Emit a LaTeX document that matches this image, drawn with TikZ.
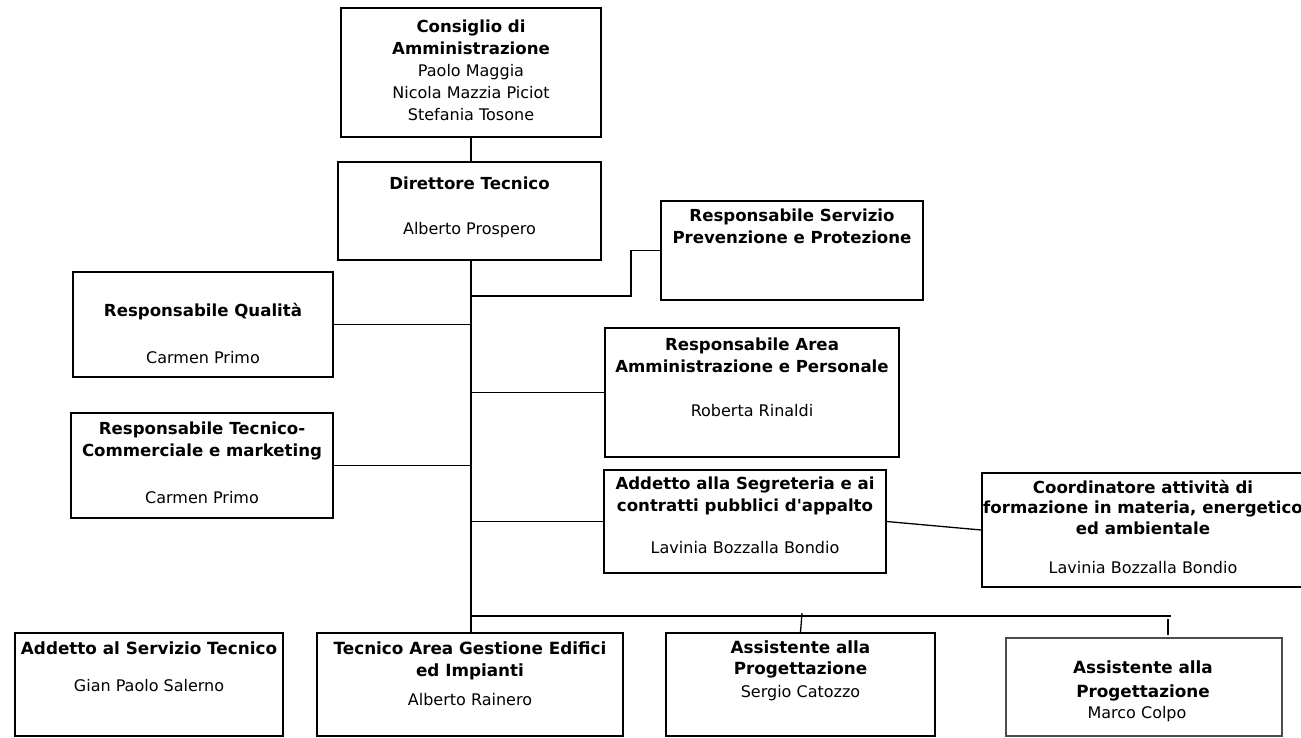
\documentclass[tikz,border=0pt]{standalone}
\usepackage{fontspec}
\setmainfont{DejaVu Sans}
\newfontfamily\plainfam{DejaVu Sans}
\newcommand{\fs}{\rule{0pt}{13.5pt}}
\begin{document}
\begin{tikzpicture}[x=1pt,y=-1pt,
  box/.style={draw, line width=1.4pt, inner sep=0pt, fill=white},
  ttl/.style={anchor=north, inner sep=0pt, align=center, font=\fontsize{16.6}{22}\selectfont\bfseries},
  nm/.style={anchor=north, inner sep=0pt, align=center, font=\fontsize{16}{22}\selectfont},
  conn/.style={line width=1.3pt},
  trunkline/.style={line width=2pt}]
\useasboundingbox (0,0) rectangle (1301,738);
% boxes
\node[box, minimum width=260pt, minimum height=129pt] (cda) at (471,72.5) {};
\node[box, minimum width=263pt, minimum height=98pt] (dt) at (469.5,211) {};
\node[box, minimum width=262pt, minimum height=99pt] (rspp) at (792,250.5) {};
\node[box, minimum width=260pt, minimum height=105pt] (rq) at (203,324.5) {};
\node[box, minimum width=262pt, minimum height=105pt] (rtc) at (202,465.5) {};
\node[box, minimum width=294pt, minimum height=129pt] (raa) at (752,392.5) {};
\node[box, minimum width=282pt, minimum height=103pt] (seg) at (745,521.5) {};
\node[box, minimum width=322pt, minimum height=114pt] (coord) at (1143,530) {};
\node[box, minimum width=268pt, minimum height=103pt] (ast) at (149,684.5) {};
\node[box, minimum width=306pt, minimum height=103pt] (tag) at (470,684.5) {};
\node[box, minimum width=269pt, minimum height=103pt] (sc) at (800.5,684.5) {};
\node[box, draw=black!70, minimum width=276pt, minimum height=98pt] (mc) at (1144,687) {};
% texts
\node[ttl] (cdat) at (471,18.5) {\fs Consiglio di\\Amministrazione};
\node[nm] (cdan) at (471,62.5) {\fs Paolo Maggia\\Nicola Mazzia Piciot\\Stefania Tosone};
\node[ttl] (dtt) at (469.5,175.5) {\fs Direttore Tecnico};
\node[nm] (dtn) at (469.5,220.5) {\fs Alberto Prospero};
\node[ttl] (rsppt) at (792,207.5) {\fs Responsabile Servizio\\Prevenzione e Protezione};
\node[ttl] (rqt) at (203,302.5) {\fs Responsabile Qualità};
\node[nm] (rqn) at (203,349.5) {\fs Carmen Primo};
\node[ttl] (rtct) at (202,420.5) {\fs Responsabile Tecnico-\\Commerciale e marketing};
\node[nm] (rtcn) at (202,489.5) {\fs Carmen Primo};
\node[ttl] (raat) at (752,336.5) {\fs Responsabile Area\\Amministrazione e Personale};
\node[nm] (raan) at (752,402.5) {\fs Roberta Rinaldi};
\node[ttl] (segt) at (745,475.5) {\fs Addetto alla Segreteria e ai\\contratti pubblici {\plainfam d'appalto}};
\node[nm] (segn) at (745,539.5) {\fs Lavinia Bozzalla Bondio};
\node[ttl, font=\fontsize{16.6}{20.5}\selectfont\bfseries] (coordt) at (1143,479.5) {\fs Coordinatore attività di\\formazione in materia, energetico\\ed ambientale};
\node[nm] (coordn) at (1143,559.5) {\fs Lavinia Bozzalla Bondio};
\node[ttl, font=\fontsize{16.8}{22}\selectfont\bfseries] (astt) at (149,640.5) {\fs Addetto al Servizio Tecnico};
\node[nm] (astn) at (149,677.5) {\fs Gian Paolo Salerno};
\node[ttl, font=\fontsize{16.8}{22}\selectfont\bfseries] (tagt) at (470,640.5) {\fs Tecnico Area Gestione Edifici\\ed Impianti};
\node[nm] (tagn) at (470,691.5) {\fs Alberto Rainero};
\node[ttl, font=\fontsize{16.8}{21}\selectfont\bfseries] (sct) at (800.5,639.5) {\fs Assistente alla\\Progettazione};
\node[nm] (scn) at (800.5,683.5) {\fs Sergio Catozzo};
\node[ttl, font=\fontsize{16.8}{24}\selectfont\bfseries] (mct) at (1143,659.5) {\fs Assistente alla\\Progettazione};
\node[nm] (mcn) at (1137,704.5) {\fs Marco Colpo};
% connectors
\coordinate (tk) at (471,260);
\coordinate (rsppbend) at (631,296);
\coordinate (busend) at (1171,616);
\coordinate (sctick) at (802,613);
\coordinate (mctop) at (1168,619);
\coordinate (mcbot) at (1168,635);
\draw[conn] (cda.south) -- (cda.south |- dt.north);
\draw[trunkline] (tk) -- (tk |- raa.west);
\draw[conn] (tk |- raa.west) -- (tk |- tag.north);
\draw[conn] (tk |- rsppbend) -- (rsppbend) |- (rspp.west);
\draw[conn] (rq.east) -- (rq.east -| tk);
\draw[conn] (rtc.east) -- (rtc.east -| tk);
\draw[conn] (raa.west) -- (raa.west -| tk);
\draw[conn] (seg.west) -- (seg.west -| tk);
\draw[conn] (seg.east) -- (coord.west);
\draw[conn] (tk |- busend) -- (busend);
\draw[conn] (sctick) -- (sc.north);
\draw[conn] (mctop) -- (mcbot);
\end{tikzpicture}
\end{document}
